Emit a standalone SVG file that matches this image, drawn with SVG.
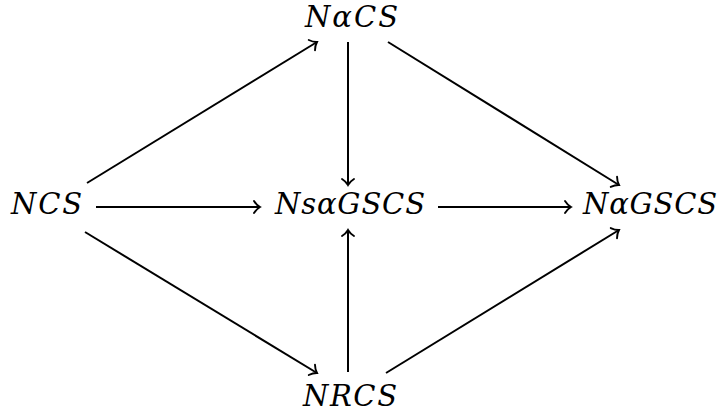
<svg xmlns="http://www.w3.org/2000/svg" width="723" height="414" viewBox="0 0 723 414">
<defs>
<marker id="to" markerUnits="userSpaceOnUse" orient="auto" markerWidth="14" markerHeight="14" refX="0" refY="0" viewBox="-8 -7 10 14" overflow="visible">
<path d="M -6 -6 C -4 -2.8 -1.2 -0.7 0 0 C -1.2 0.7 -4 2.8 -6 6" fill="none" stroke="#000" stroke-width="1.9" stroke-linecap="round"/>
</marker>
<style>
.lbl{font-family:'DejaVu Serif','Liberation Serif',serif;font-style:italic;font-size:29px;fill:#000}
.edge{stroke:#000;stroke-width:2;fill:none;marker-end:url(#to)}
</style>
</defs>
<rect width="723" height="414" fill="#fff"/>
<g id="connectors">
<line class="edge" x1="87" y1="183" x2="317" y2="42"/>
<line class="edge" x1="388" y1="42" x2="619" y2="185"/>
<line class="edge" x1="348" y1="42" x2="348" y2="185"/>
<line class="edge" x1="96" y1="207" x2="260" y2="207"/>
<line class="edge" x1="438" y1="207" x2="571" y2="207"/>
<line class="edge" x1="85" y1="232" x2="317" y2="373"/>
<line class="edge" x1="348" y1="372" x2="348" y2="230"/>
<line class="edge" x1="386" y1="373" x2="619" y2="230"/>
</g>
<g id="n-top"><text class="lbl" x="305" y="27" textLength="93" lengthAdjust="spacing">NαCS</text></g>
<g id="n-left"><text class="lbl" x="11" y="214" textLength="71" lengthAdjust="spacing">NCS</text></g>
<g id="n-center"><text class="lbl" x="275" y="214" textLength="150" lengthAdjust="spacing">NsαGSCS</text></g>
<g id="n-right"><text class="lbl" x="583" y="214" textLength="134" lengthAdjust="spacing">NαGSCS</text></g>
<g id="n-bottom"><text class="lbl" x="303" y="406" textLength="94" lengthAdjust="spacing">NRCS</text></g>
</svg>
